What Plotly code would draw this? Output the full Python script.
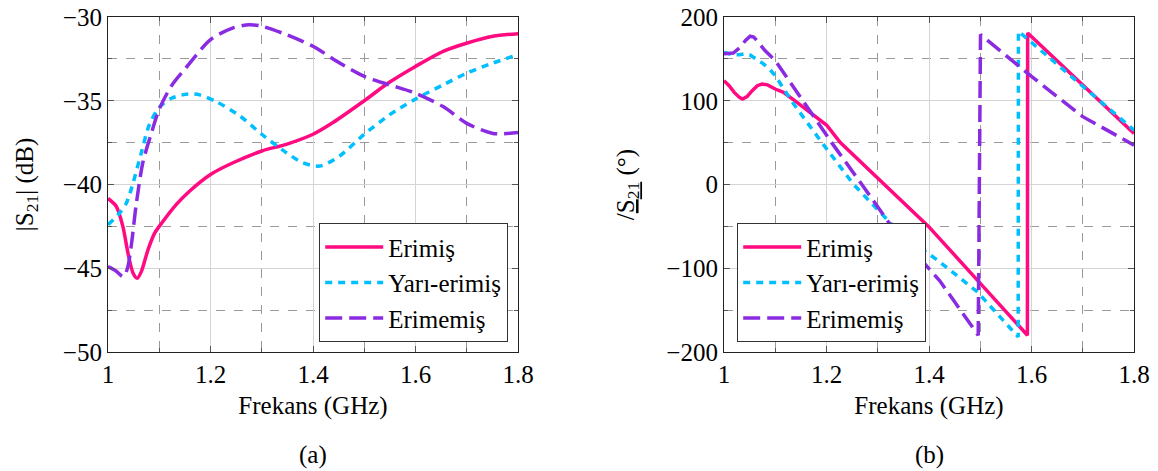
import plotly.graph_objects as go
from plotly.subplots import make_subplots

# ---------------- data ----------------
series_names = ["Erimiş", "Yarı-erimiş", "Erimemiş"]

# (a) |S21| magnitude in dB
f_mag_erimis = [1.000, 1.016, 1.029, 1.039, 1.049, 1.057, 1.065, 1.078, 1.091, 1.100, 1.133, 1.159,
                1.200, 1.244, 1.300, 1.348, 1.400, 1.439, 1.500, 1.549, 1.600, 1.654, 1.701, 1.751, 1.800]
mag_erimis = [-40.83, -41.3, -42.5, -44.1, -45.3, -45.6, -45.2, -43.9, -42.9, -42.5, -41.2, -40.4,
              -39.4, -38.7, -38.0, -37.6, -37.0, -36.3, -35.0, -33.9, -32.95, -32.05, -31.55, -31.15, -31.0]

f_mag_yari = [1.000, 1.020, 1.036, 1.049, 1.065, 1.081, 1.100, 1.124, 1.156, 1.179, 1.211, 1.257,
              1.300, 1.348, 1.380, 1.413, 1.452, 1.500, 1.549, 1.600, 1.654, 1.700, 1.751, 1.800]
mag_yari = [-42.4, -41.8, -41.1, -39.9, -38.1, -36.4, -35.4, -34.85, -34.6, -34.65, -35.05, -35.9,
            -37.0, -38.1, -38.7, -38.9, -38.3, -37.0, -35.85, -34.9, -34.05, -33.35, -32.75, -32.25]

f_mag_erimemis = [1.000, 1.015, 1.030, 1.038, 1.046, 1.055, 1.068, 1.085, 1.100, 1.124, 1.153, 1.200,
                  1.244, 1.276, 1.300, 1.348, 1.400, 1.452, 1.500, 1.549, 1.600, 1.654, 1.700, 1.751, 1.800]
mag_erimemis = [-44.9, -45.15, -45.5, -45.0, -43.5, -41.2, -38.7, -36.9, -35.5, -34.1, -33.0, -31.35,
                -30.65, -30.46, -30.55, -31.05, -31.75, -32.75, -33.55, -34.05, -34.55, -35.35, -36.35, -36.95, -36.9]

# (b) phase of S21 in degrees
f_ph_erimis = [1.000, 1.010, 1.020, 1.030, 1.036, 1.045, 1.055, 1.065, 1.074, 1.085, 1.100, 1.116,
               1.136, 1.160, 1.184, 1.200, 1.227, 1.314, 1.399, 1.500, 1.592, 1.5925, 1.700, 1.800]
ph_erimis = [124, 118, 110, 104, 102, 105, 112, 118, 120, 119, 114, 110,
             101, 90, 78, 71, 50, 0, -50, -118, -180, 181, 119, 61]

f_ph_yari = [1.000, 1.015, 1.030, 1.040, 1.050, 1.058, 1.068, 1.077, 1.090, 1.100, 1.123, 1.136,
             1.160, 1.191, 1.253, 1.331, 1.370, 1.418, 1.494, 1.574, 1.5745, 1.700, 1.800]
ph_yari = [158, 155, 155, 156, 155, 152, 148, 144, 137, 130, 108, 96,
           76, 50, 0, -50, -70, -91, -128, -182, 183, 117, 65]

f_ph_erimemis = [1.000, 1.018, 1.032, 1.042, 1.051, 1.058, 1.064, 1.080, 1.100, 1.149, 1.210, 1.269,
                 1.327, 1.421, 1.496, 1.5005, 1.600, 1.700, 1.800]
ph_erimemis = [156, 157, 164, 172, 177, 176, 172, 160, 148, 104, 50, 0,
               -50, -115, -180, 179, 129, 81, 47]

x_ticks = [1.0, 1.2, 1.4, 1.6, 1.8]
x_tick_text = ["1", "1.2", "1.4", "1.6", "1.8"]

# ---------------- styling ----------------
colors = ["#FF0A80", "#00BFFF", "#8A2BE2"]
dashes = ["solid", "7px,6px", "17px,7px"]
FONT = "Liberation Serif"
W, H = 1158, 471

fig = make_subplots(rows=1, cols=2)

mag_data = [(f_mag_erimis, mag_erimis), (f_mag_yari, mag_yari), (f_mag_erimemis, mag_erimemis)]
ph_data = [(f_ph_erimis, ph_erimis), (f_ph_yari, ph_yari), (f_ph_erimemis, ph_erimemis)]

for i, (fx, fy) in enumerate(mag_data):
    fig.add_trace(go.Scatter(x=fx, y=fy, mode="lines", name=series_names[i],
                             line=dict(color=colors[i], width=3.5, dash=dashes[i],
                                       shape="spline", smoothing=0.8),
                             legend="legend"), row=1, col=1)
for i, (fx, fy) in enumerate(ph_data):
    fig.add_trace(go.Scatter(x=fx, y=fy, mode="lines", name=series_names[i],
                             line=dict(color=colors[i], width=3.5, dash=dashes[i]),
                             legend="legend2"), row=1, col=2)

px_x = lambda p: p / W
px_y = lambda p: 1 - p / H

tfont = dict(size=25, color="black", family=FONT)

common_x = dict(range=[1, 1.8], tickvals=x_ticks, ticktext=x_tick_text,
                showgrid=True, gridcolor="#d4d4d4", gridwidth=1,
                ticks="inside", ticklen=6, tickcolor="#555", tickwidth=1,
                minor=dict(dtick=0.1, tick0=1, showgrid=True, griddash="dash",
                           gridcolor="#9a9a9a", gridwidth=1, ticks="inside", ticklen=4, tickcolor="#555"),
                showline=True, linecolor="#222", linewidth=1.2, mirror="ticks",
                zeroline=False, tickfont=tfont, ticklabeloverflow="allow",
                title=dict(text="Frekans (GHz)", font=tfont, standoff=9),
                automargin=False)

fig.update_xaxes(**common_x, domain=[px_x(108), px_x(518)], row=1, col=1)
fig.update_xaxes(**common_x, domain=[px_x(724), px_x(1134)], row=1, col=2)

common_y = dict(showgrid=True, gridcolor="#d4d4d4", gridwidth=1,
                ticks="inside", ticklen=6, tickcolor="#555", tickwidth=1,
                showline=True, linecolor="#222", linewidth=1.2, mirror="ticks",
                zeroline=False, tickfont=tfont, ticklabeloverflow="allow",
                domain=[px_y(352), px_y(17)], automargin=False)

fig.update_yaxes(**common_y, range=[-50, -30], dtick=5, tick0=-50,
                 minor=dict(dtick=2.5, tick0=-50, showgrid=True, griddash="dash",
                            gridcolor="#9a9a9a", gridwidth=1, ticks="inside", ticklen=4, tickcolor="#555"),
                 title=dict(text="|S<sub>21</sub>| (dB)", font=tfont, standoff=22),
                 row=1, col=1)
fig.update_yaxes(**common_y, range=[-200, 200], dtick=100, tick0=-200,
                 minor=dict(dtick=50, tick0=-200, showgrid=True, griddash="dash",
                            gridcolor="#9a9a9a", gridwidth=1, ticks="inside", ticklen=4, tickcolor="#555"),
                 title=dict(text="/<span style='text-decoration:underline'>S<sub>21</sub></span> (°)",
                            font=tfont, standoff=24),
                 row=1, col=2)

legend_style = dict(font=tfont, bgcolor="white", bordercolor="#333", borderwidth=1.2,
                    itemwidth=58, tracegroupgap=0, yanchor="bottom")

fig.update_layout(
    width=W, height=H,
    margin=dict(l=0, r=0, t=0, b=0),
    paper_bgcolor="white", plot_bgcolor="white",
    font=tfont,
    legend=dict(**legend_style, x=px_x(508), y=px_y(342), xanchor="right"),
    legend2=dict(**legend_style, x=px_x(737), y=px_y(342), xanchor="left"),
    annotations=[
        dict(text="(a)", x=px_x(313), y=px_y(455), xref="paper", yref="paper",
             xanchor="center", yanchor="middle", showarrow=False, font=tfont),
        dict(text="(b)", x=px_x(929), y=px_y(455), xref="paper", yref="paper",
             xanchor="center", yanchor="middle", showarrow=False, font=tfont),
    ],
)

fig.write_html("out.html", config={"displayModeBar": False},
               post_script="document.body.style.margin='0';")
